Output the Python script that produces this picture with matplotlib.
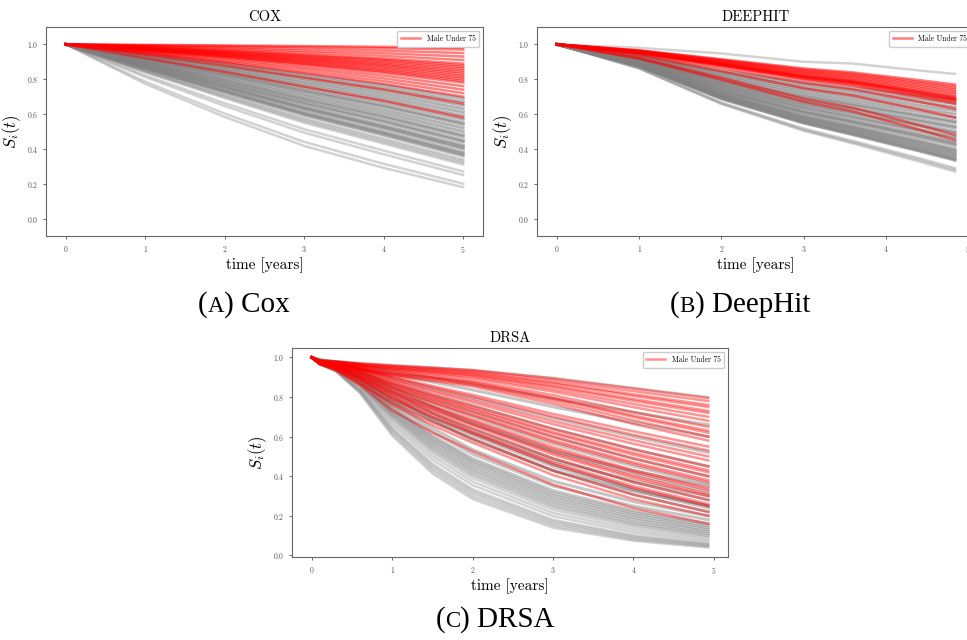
import matplotlib
matplotlib.use('Agg')
import matplotlib.pyplot as plt

plt.rcParams['font.family'] = 'serif'
plt.rcParams['font.serif'] = ['cmr10', 'DejaVu Serif']
plt.rcParams['mathtext.fontset'] = 'cm'
plt.rcParams['axes.formatter.use_mathtext'] = True

# Survival curves: each row is one patient, values at the knot times.
# "outer" rows are the isolated curves at the edge of the grey band.
cox_t = [0, 1, 2, 3, 4, 5]
cox_grey_outer = [
    [1, .773, .583, .417, .291, .18], [1, .786, .602, .440, .314, .20],
    [1, .812, .646, .493, .369, .25], [1, .822, .662, .513, .390, .27],
    [1, .839, .691, .550, .430, .31], [1, .843, .698, .559, .440, .32],
    [1, .847, .705, .568, .450, .33], [1, .850, .712, .577, .460, .34],
]
cox_grey = [
    [1, .858, .725, .594, .479, .36], [1, .862, .731, .602, .489, .37],
    [1, .865, .737, .610, .498, .38], [1, .872, .749, .627, .517, .40],
    [1, .875, .755, .634, .526, .41], [1, .878, .761, .642, .535, .42],
    [1, .884, .772, .658, .554, .44], [1, .887, .777, .666, .563, .45],
    [1, .893, .788, .680, .580, .47], [1, .896, .794, .688, .590, .48],
    [1, .901, .804, .702, .607, .50], [1, .907, .814, .716, .624, .52],
    [1, .912, .824, .730, .642, .54], [1, .914, .829, .737, .650, .55],
    [1, .919, .838, .751, .667, .57], [1, .924, .847, .764, .684, .59],
    [1, .929, .856, .777, .700, .61], [1, .933, .864, .790, .717, .63],
    [1, .937, .873, .803, .733, .65], [1, .942, .882, .815, .750, .67],
    [1, .946, .890, .828, .766, .69],
]
cox_red = [
    [1, .921, .842, .757, .676, .58], [1, .940, .877, .809, .741, .66],
    [1, .948, .894, .834, .773, .70], [1, .952, .901, .845, .789, .72],
    [1, .956, .909, .858, .805, .74], [1, .960, .918, .869, .821, .76],
    [1, .964, .925, .881, .836, .78], [1, .966, .929, .887, .844, .79],
    [1, .967, .932, .892, .851, .80], [1, .969, .936, .898, .859, .81],
    [1, .970, .940, .904, .867, .82], [1, .972, .943, .909, .875, .83],
    [1, .974, .946, .915, .882, .84], [1, .976, .950, .920, .889, .85],
    [1, .978, .953, .926, .897, .86], [1, .979, .957, .931, .905, .87],
    [1, .981, .961, .937, .912, .88], [1, .983, .964, .942, .919, .89],
    [1, .986, .970, .953, .934, .91], [1, .989, .977, .963, .949, .93],
    [1, .992, .984, .974, .964, .95], [1, .995, .990, .985, .978, .97],
    [1, .997, .994, .990, .986, .98],
]

deephit_t = [0, 1, 2, 3, 3.6, 4.4, 4.84]
deephit_grey_outer = [
    [1, .861, .657, .504, .431, .328, .27], [1, .863, .662, .510, .438, .338, .28],
    [1, .865, .666, .517, .446, .347, .29], [1, .980, .948, .900, .890, .850, .83],
]
deephit_grey = [
    [1, .874, .687, .548, .481, .388, .335],
    [1, .875, .690, .551, .485, .393, .34], [1, .877, .695, .558, .493, .402, .35],
    [1, .878, .699, .565, .501, .411, .36], [1, .880, .704, .572, .509, .420, .37],
    [1, .882, .709, .578, .516, .430, .38], [1, .884, .713, .585, .524, .439, .39],
    [1, .886, .718, .592, .532, .448, .40], [1, .890, .727, .606, .548, .466, .42],
    [1, .892, .732, .612, .555, .476, .43], [1, .894, .737, .619, .563, .485, .44],
    [1, .897, .746, .633, .579, .503, .46], [1, .899, .751, .640, .587, .512, .47],
    [1, .903, .760, .653, .602, .531, .49], [1, .905, .765, .660, .610, .540, .50],
    [1, .909, .774, .674, .626, .558, .52], [1, .911, .779, .680, .633, .568, .53],
    [1, .915, .789, .694, .649, .586, .55], [1, .916, .793, .701, .657, .595, .56],
    [1, .920, .803, .714, .672, .614, .58], [1, .924, .812, .728, .688, .632, .60],
    [1, .928, .821, .742, .704, .650, .62], [1, .932, .831, .755, .719, .669, .64],
    [1, .935, .840, .769, .735, .687, .66], [1, .939, .850, .782, .750, .706, .68],
]
deephit_red = [
    [1, .918, .797, .670, .615, .511, .45], [1, .922, .808, .688, .636, .537, .48],
    [1, .937, .845, .748, .706, .626, .58], [1, .945, .863, .778, .741, .671, .63],
    [1, .949, .874, .796, .762, .697, .66], [1, .951, .878, .802, .769, .706, .67],
    [1, .952, .882, .808, .776, .715, .68], [1, .953, .883, .811, .780, .720, .685],
    [1, .954, .885, .814, .783, .724, .69], [1, .954, .887, .817, .787, .729, .695],
    [1, .955, .889, .820, .790, .733, .70], [1, .957, .893, .826, .797, .742, .71],
    [1, .958, .896, .832, .804, .751, .72], [1, .960, .900, .838, .811, .760, .73],
    [1, .961, .904, .844, .818, .769, .74], [1, .963, .908, .850, .825, .778, .75],
    [1, .964, .911, .856, .832, .786, .76], [1, .966, .915, .862, .839, .795, .77],
]

drsa_t = [0, 0.1, 0.3, 0.6, 1.0, 1.5, 2.0, 3.0, 4.0, 4.93]
drsa_grey_outer = [
    [1, .965, .929, .819, .605, .414, .285, .140, .074, .04],
    [1, .966, .931, .825, .616, .428, .298, .151, .081, .045],
    [1, .968, .933, .830, .627, .440, .311, .161, .088, .05],
    [1, .969, .935, .835, .636, .452, .323, .171, .095, .055],
    [1, .970, .937, .840, .645, .463, .334, .180, .102, .06],
    [1, .971, .941, .848, .661, .483, .355, .198, .116, .07],
    [1, .973, .944, .855, .674, .501, .373, .214, .129, .08],
    [1, .974, .946, .861, .687, .517, .391, .230, .142, .09],
    [1, .985, .981, .971, .961, .950, .937, .897, .846, .80],
]
drsa_grey = [
    [1, .975, .948, .867, .698, .532, .407, .245, .155, .10],
    [1, .976, .950, .872, .709, .546, .423, .260, .167, .11],
    [1, .977, .952, .877, .718, .559, .437, .274, .180, .12],
    [1, .978, .954, .881, .727, .572, .451, .288, .192, .13],
    [1, .979, .956, .885, .736, .583, .465, .301, .204, .14],
    [1, .979, .957, .889, .744, .595, .477, .314, .215, .15],
    [1, .980, .959, .892, .751, .605, .489, .327, .226, .16],
    [1, .981, .961, .899, .765, .625, .512, .351, .249, .18],
    [1, .982, .964, .905, .778, .643, .534, .375, .272, .20],
    [1, .966, .940, .880, .773, .675, .589, .428, .307, .22],
    [1, .967, .942, .884, .784, .690, .607, .450, .329, .24],
    [1, .985, .969, .918, .806, .684, .582, .429, .325, .25],
    [1, .968, .944, .888, .790, .697, .616, .460, .339, .25],
    [1, .970, .947, .895, .805, .718, .640, .490, .370, .28],
    [1, .987, .973, .928, .829, .719, .625, .480, .377, .30],
    [1, .971, .950, .905, .824, .744, .671, .528, .411, .32],
    [1, .989, .976, .937, .849, .750, .664, .527, .427, .35],
    [1, .973, .953, .913, .841, .767, .699, .564, .451, .36],
    [1, .975, .957, .921, .856, .788, .726, .599, .489, .40],
    [1, .977, .962, .931, .873, .812, .756, .639, .536, .45],
    [1, .981, .968, .943, .895, .844, .795, .693, .600, .52],
    [1, .985, .975, .955, .917, .876, .836, .751, .671, .60],
    [1, .988, .979, .963, .932, .898, .864, .792, .723, .66],
]
drsa_red = [
    [1, .966, .935, .860, .732, .621, .526, .358, .239, .16],
    [1, .968, .940, .873, .761, .658, .569, .406, .285, .20],
    [1, .967, .937, .866, .773, .675, .589, .428, .307, .22],
    [1, .969, .943, .886, .790, .697, .616, .460, .339, .25],
    [1, .969, .944, .889, .795, .705, .624, .470, .350, .26],
    [1, .970, .946, .894, .805, .718, .640, .490, .370, .28],
    [1, .970, .947, .898, .815, .731, .656, .510, .391, .30],
    [1, .971, .948, .901, .820, .738, .664, .519, .401, .31],
    [1, .971, .950, .905, .828, .750, .678, .537, .421, .33],
    [1, .972, .951, .908, .833, .755, .685, .547, .431, .34],
    [1, .973, .954, .914, .845, .772, .706, .573, .461, .37],
    [1, .973, .955, .916, .848, .778, .713, .582, .470, .38],
    [1, .974, .956, .921, .856, .788, .726, .599, .489, .40],
    [1, .975, .958, .925, .863, .798, .738, .615, .508, .42],
    [1, .975, .959, .927, .867, .803, .744, .623, .518, .43],
    [1, .976, .961, .931, .873, .812, .756, .639, .536, .45],
    [1, .978, .964, .936, .883, .826, .773, .663, .564, .48],
    [1, .979, .966, .940, .889, .835, .784, .678, .582, .50],
    [1, .981, .969, .944, .898, .848, .801, .701, .609, .53],
    [1, .982, .971, .948, .903, .856, .811, .715, .627, .55],
    [1, .975, .962, .937, .907, .882, .854, .766, .664, .58],
    [1, .976, .964, .940, .912, .889, .862, .779, .682, .60],
    [1, .977, .966, .943, .918, .896, .870, .791, .699, .62],
    [1, .977, .967, .945, .920, .899, .875, .797, .707, .63],
    [1, .978, .968, .948, .925, .906, .882, .810, .724, .65],
    [1, .979, .970, .952, .933, .915, .894, .828, .749, .68],
    [1, .980, .972, .956, .938, .921, .902, .839, .765, .70],
    [1, .980, .973, .958, .943, .927, .909, .851, .781, .72],
    [1, .981, .974, .960, .945, .930, .913, .857, .790, .73],
    [1, .982, .976, .963, .950, .936, .920, .868, .806, .75],
    [1, .982, .977, .965, .952, .939, .924, .874, .814, .76],
    [1, .984, .979, .968, .956, .945, .931, .885, .830, .78],
    [1, .985, .980, .970, .960, .948, .936, .894, .843, .795],
]

panels = [
    ('COX', cox_t, cox_grey_outer, cox_grey, cox_red, [0.0476, 0.6313, 0.4519, 0.3266], (-0.1, 1.1)),
    ('DEEPHIT', deephit_t, deephit_grey_outer, deephit_grey, deephit_red, [0.5553, 0.6313, 0.4529, 0.3266], (-0.1, 1.1)),
    ('DRSA', drsa_t, drsa_grey_outer, drsa_grey, drsa_red, [0.3020, 0.1297, 0.4509, 0.3266], None),
]
legend_label = 'Male Under 75'

fig = plt.figure(figsize=(9.67, 6.4), dpi=100)

for name, t, outer, grey, red, pos, ylim in panels:
    ax = fig.add_axes(pos)
    for s in outer:
        ax.plot(t, s, color='grey', alpha=0.35, lw=1.8)
    core_alpha = 0.45 if name == 'DRSA' else 0.6
    for s in grey:
        ax.plot(t, s, color='grey', alpha=core_alpha, lw=2.2)
    red_alpha = 0.42 if name == 'DRSA' else 0.5
    for i, s in enumerate(red):
        ax.plot(t, s, color='red', alpha=red_alpha, lw=1.8, label=legend_label if i == 0 else None)
    if ylim is not None:
        ax.set_ylim(*ylim)
    ax.set_yticks([0.0, 0.2, 0.4, 0.6, 0.8, 1.0])
    ax.set_xticks([0, 1, 2, 3, 4, 5])
    ax.tick_params(labelsize=5.5, length=2.5, width=0.6, colors='#555555', pad=3)
    for sp in ax.spines.values():
        sp.set_color('#666666')
        sp.set_linewidth(0.8)
    ax.set_title(name, fontsize=10.5, pad=4)
    ax.set_xlabel('time [years]', fontsize=11, labelpad=2)
    ax.set_ylabel(r'$S_i(t)$', fontsize=12, labelpad=3)
    ax.legend(loc='upper right', fontsize=5.5, framealpha=1, edgecolor='#cccccc',
              handlelength=2.5, borderpad=0.5)

# Sub-figure captions with a small-caps letter
renderer = fig.canvas.get_renderer()

def caption(xc, yb, letter, label):
    pieces = [('(', 21), (letter, 16.5), (') ' + label, 21)]
    texts = []
    widths = []
    for s, size in pieces:
        tx = fig.text(0, yb, s, fontsize=size, family='Liberation Serif', va='baseline', ha='left')
        texts.append(tx)
        widths.append(tx.get_window_extent(renderer).width)
    x = xc * fig.bbox.width - sum(widths) / 2
    for tx, w in zip(texts, widths):
        tx.set_x(x / fig.bbox.width)
        x += w

caption(244 / 967, 1 - 312 / 640, 'A', 'Cox')
caption(740 / 967, 1 - 312 / 640, 'B', 'DeepHit')
caption(495 / 967, 1 - 627 / 640, 'C', 'DRSA')

fig.savefig('out.png', dpi=100)
